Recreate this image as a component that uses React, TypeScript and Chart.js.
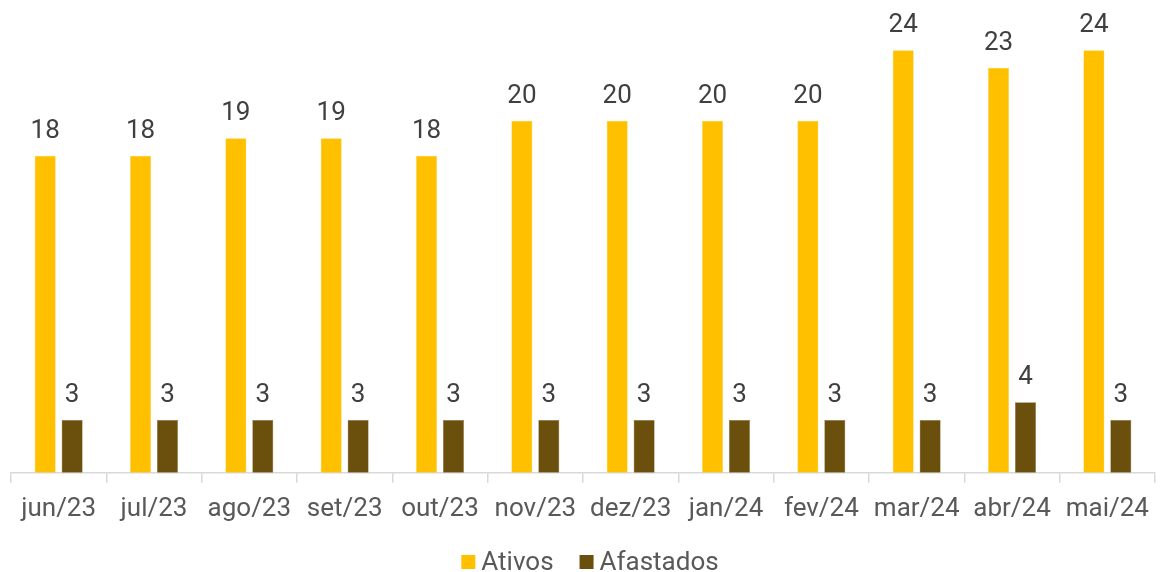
import React, { useEffect, useRef } from "react";
import { Chart, registerables } from "chart.js";

Chart.register(...registerables);

const categories = ["jun/23", "jul/23", "ago/23", "set/23", "out/23", "nov/23", "dez/23", "jan/24", "fev/24", "mar/24", "abr/24", "mai/24"];
const ativos = [18, 18, 19, 19, 18, 20, 20, 20, 20, 24, 23, 24];
const afastados = [3, 3, 3, 3, 3, 3, 3, 3, 3, 3, 4, 3];
const seriesNames = ["Ativos", "Afastados"];
const seriesColors = ["#FFC000", "#6B4F0C"];

const labelPlugin = {
  id: "valueLabels",
  afterDatasetsDraw(chart: any) {
    const ctx = chart.ctx;
    ctx.save();
    ctx.font = "26px Roboto";
    ctx.fillStyle = "#404040";
    ctx.textAlign = "center";
    ctx.textBaseline = "alphabetic";
    chart.data.datasets.forEach((ds: any, i: number) => {
      const meta = chart.getDatasetMeta(i);
      meta.data.forEach((bar: any, j: number) => {
        ctx.fillText(String(ds.data[j]), bar.x, bar.y - 18);
      });
    });
    ctx.restore();
  },
};

const legendPlugin = {
  id: "customLegend",
  afterDraw(chart: any) {
    const ctx = chart.ctx;
    ctx.save();
    ctx.font = "26px Roboto";
    ctx.textBaseline = "middle";
    ctx.textAlign = "left";
    const box = 14, gapText = 6, gapItem = 26;
    const items = chart.data.datasets.map((ds: any) => ({ label: ds.label, color: ds.backgroundColor, w: ctx.measureText(ds.label).width }));
    let total = 0;
    items.forEach((it: any, i: number) => { total += box + gapText + it.w + (i < items.length - 1 ? gapItem : 0); });
    let x = 590 - total / 2;
    const cy = 562;
    items.forEach((it: any) => {
      ctx.fillStyle = it.color;
      ctx.fillRect(x, cy - box / 2, box, box);
      x += box + gapText;
      ctx.fillStyle = "#595959";
      ctx.fillText(it.label, x, cy + 1);
      x += it.w + gapItem;
    });
    ctx.restore();
  },
};

export default function App() {
  const ref = useRef<HTMLCanvasElement>(null);
  useEffect(() => {
    const chart = new Chart(ref.current!, {
      type: "bar",
      data: {
        labels: categories,
        datasets: [
          { label: seriesNames[0], data: ativos, backgroundColor: seriesColors[0], borderColor: "#FFD24D", borderWidth: 0.5, barPercentage: 0.78, categoryPercentage: 0.565 },
          { label: seriesNames[1], data: afastados, backgroundColor: seriesColors[1], borderColor: "#8A7235", borderWidth: 0.5, barPercentage: 0.78, categoryPercentage: 0.565 },
        ],
      },
      options: {
        animation: false,
        responsive: false,
        layout: { padding: { left: 11, right: 1, top: 15, bottom: 36 } },
        scales: {
          x: {
            grid: { display: true, offset: true, drawOnChartArea: false, tickLength: 10, color: "#D9D9D9", lineWidth: 1.5 },
            border: { display: true, color: "#D9D9D9", width: 1.5 },
            ticks: { font: { family: "Roboto", size: 26 }, color: "#595959", padding: 11 },
          },
          y: { display: false, min: 0, max: 26 },
        },
        plugins: {
          legend: { display: false },
          tooltip: { enabled: false },
        },
      },
      plugins: [labelPlugin, legendPlugin],
    });
    return () => chart.destroy();
  }, []);
  return (
    <div style={{ position: "fixed", left: 0, top: 0, width: 1160, height: 572, background: "#fff" }}>
      <canvas ref={ref} width={1160} height={572} style={{ width: 1160, height: 572 }} />
    </div>
  );
}
